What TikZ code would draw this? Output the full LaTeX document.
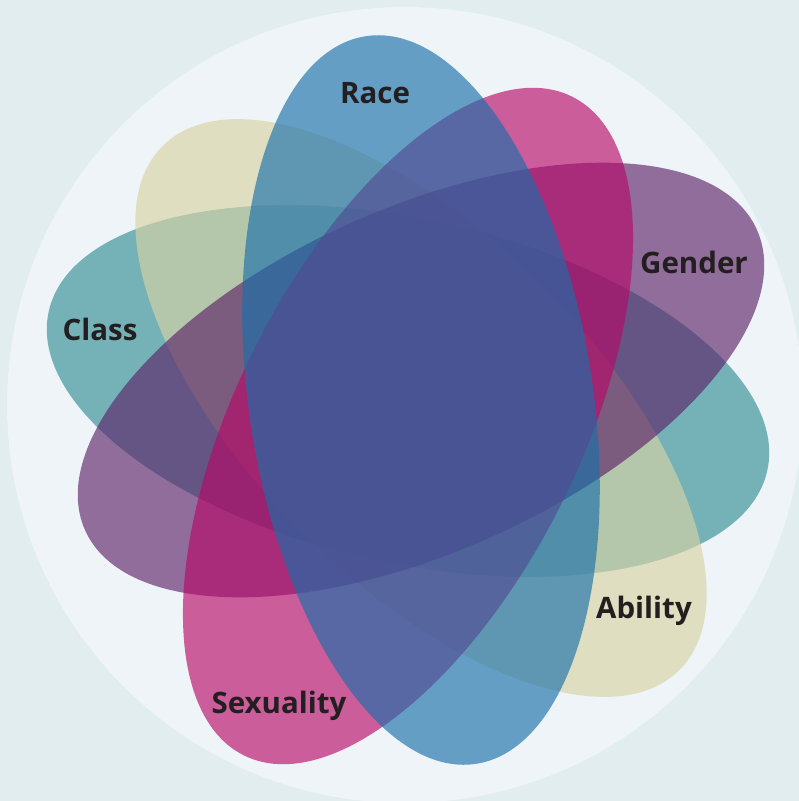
\documentclass[tikz,border=0pt]{standalone}
\usepackage{fontspec}
\setmainfont{Open Sans}
\definecolor{bgcol}{RGB}{225,237,238}
\definecolor{circcol}{RGB}{238,244,247}
\definecolor{classcol}{RGB}{49,141,149}
\definecolor{abilitycol}{RGB}{216,211,164}
\definecolor{gendercol}{RGB}{91,33,103}
\definecolor{sexcol}{RGB}{183,8,103}
\definecolor{racecol}{RGB}{24,111,170}
\definecolor{labcol}{RGB}{35,31,32}
\begin{document}
\begin{tikzpicture}[x=1pt,y=1pt,
  lab/.style={font=\fontsize{29.5}{30}\selectfont\bfseries, text=labcol, inner sep=0pt, anchor=base},
  blob/.style={fill opacity=0.64}]
\useasboundingbox (0,0) rectangle (799,-801);
\fill[bgcol] (0,0) rectangle (799,-801);
\fill[circcol] (405,-405) circle [radius=398pt];
% Class (teal)
\fill[blob, classcol, rotate around={-12.5:(408,-391)}] (408,-391) ellipse [x radius=368pt, y radius=172pt];
% Ability (beige)
\fill[blob, abilitycol, rotate around={-45.5:(421,-408)}] (421,-408) ellipse [x radius=368pt, y radius=172pt];
% Gender (purple)
\fill[blob, gendercol, rotate around={24.1:(421,-380)}] (421,-380) ellipse [x radius=368pt, y radius=172pt];
% Sexuality (pink)
\fill[blob, sexcol, rotate around={63.5:(408,-426)}] (408,-426) ellipse [x radius=368pt, y radius=172pt];
% Race (blue)
\fill[blob, racecol, rotate around={98.6:(421,-400)}] (421,-400) ellipse [x radius=368pt, y radius=172pt];
% labels
\node[lab] (race) at (375,-103) {Race};
\node[lab] (gender) at (694,-273) {Gender};
\node[lab] (class) at (100,-340) {Class};
\node[lab] (ability) at (644,-618) {Ability};
\node[lab] (sexuality) at (279,-713) {Sexuality};
\end{tikzpicture}
\end{document}
